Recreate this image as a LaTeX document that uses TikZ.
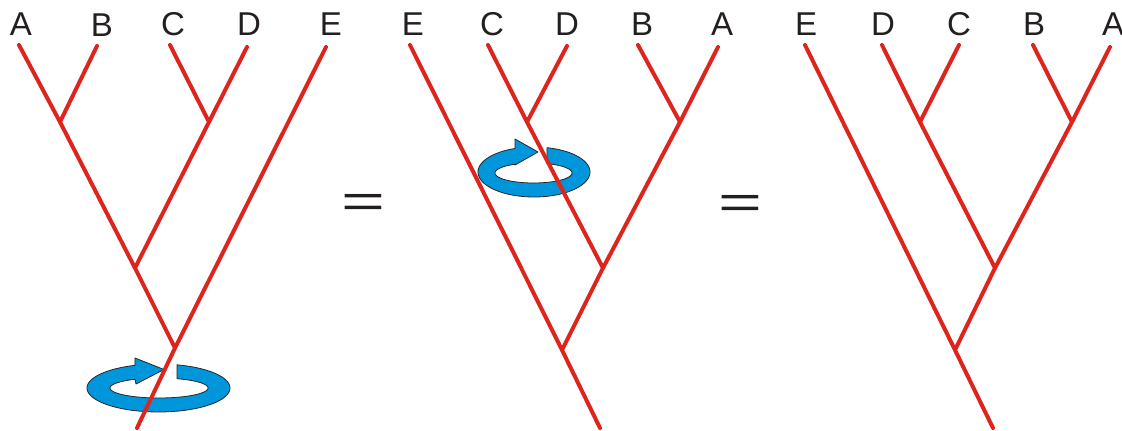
\documentclass[tikz,border=0pt]{standalone}
\usepackage{fontspec}
\setmainfont{Liberation Sans}
\definecolor{treered}{RGB}{221,37,29}
\definecolor{ringblue}{RGB}{0,150,219}
\definecolor{labelink}{RGB}{35,31,32}
\tikzset{
  branch/.style={draw=treered, line width=4pt, line cap=round, line join=round},
  ring/.style={fill=ringblue, draw=black!85, line width=0.8pt, line join=round},
  leaf/.style={anchor=base, inner sep=0pt, text=labelink, font=\fontsize{33}{38}\selectfont},
  eqsign/.style={inner sep=0pt, text=labelink, font=\fontsize{47}{52}\selectfont}
}
\begin{document}
\begin{tikzpicture}[x=1pt, y=-1pt]
\useasboundingbox (0,0) rectangle (1122,431);

% ---------- rotation arrows ----------
\path[ring]
  plot[domain=-75:250.8, samples=90] ({158.5+71.5*cos(\x)},{388+24*sin(\x)})
  -- (135,358) -- (164,369.5) -- (136,384) -- (135,379.3)
  -- plot[domain=0:1, samples=90] ({159+49*cos(240.6-309.1*\x)},{388+10*sin(240.6-309.1*\x)})
  -- cycle;
\path[ring]
  plot[domain=-76.6:250.2, samples=90] ({534+56*cos(\x)},{172+25*sin(\x)})
  -- (515,139) -- (538,152) -- (515,165) -- (515,164.2)
  -- plot[domain=0:1, samples=90] ({533.5+38.5*cos(241.3-310.8*\x)},{173+10*sin(241.3-310.8*\x)})
  -- cycle;

% ---------- tree 1 ----------
\coordinate (t1A) at (19,45);
\coordinate (t1B) at (97,46);
\coordinate (t1C) at (170,45);
\coordinate (t1D) at (247,47);
\coordinate (t1E) at (326,47);
\coordinate (t1AB) at (60,122);
\coordinate (t1CD) at (209,122);
\coordinate (t1ABCD) at (135,268);
\coordinate (t1R) at (175,348);
\coordinate (t1S) at (137,428);
\draw[branch] (t1A) -- (t1AB) -- (t1ABCD) -- (t1R);
\draw[branch] (t1B) -- (t1AB);
\draw[branch] (t1C) -- (t1CD);
\draw[branch] (t1D) -- (t1CD) -- (t1ABCD);
\draw[branch] (t1E) -- (t1R) -- (t1S);
\node[leaf] (l1A) at (21,35) {A};
\node[leaf] (l1B) at (102,36) {B};
\node[leaf] (l1C) at (173,35) {C};
\node[leaf] (l1D) at (249,35) {D};
\node[leaf] (l1E) at (331,35) {E};

% ---------- tree 2 ----------
\coordinate (t2E) at (410,45);
\coordinate (t2C) at (488,45);
\coordinate (t2D) at (567,46);
\coordinate (t2B) at (638,45);
\coordinate (t2A) at (718,47);
\coordinate (t2CD) at (527,122);
\coordinate (t2BA) at (680,122);
\coordinate (t2CDBA) at (603,268);
\coordinate (t2R) at (562,350);
\coordinate (t2S) at (600,428);
\draw[branch] (t2E) -- (t2R) -- (t2S);
\draw[branch] (t2C) -- (t2CD) -- (t2CDBA);
\draw[branch] (t2D) -- (t2CD);
\draw[branch] (t2B) -- (t2BA);
\draw[branch] (t2A) -- (t2BA) -- (t2CDBA) -- (t2R);
\node[leaf] (l2E) at (413,35) {E};
\node[leaf] (l2C) at (492,35) {C};
\node[leaf] (l2D) at (567,35) {D};
\node[leaf] (l2B) at (642,35) {B};
\node[leaf] (l2A) at (722,35) {A};

% ---------- tree 3 ----------
\coordinate (t3E) at (805,45);
\coordinate (t3D) at (882,45);
\coordinate (t3C) at (959,45);
\coordinate (t3B) at (1033,45);
\coordinate (t3A) at (1110,47);
\coordinate (t3DC) at (920,122);
\coordinate (t3BA) at (1072,122);
\coordinate (t3DCBA) at (995,268);
\coordinate (t3R) at (955,350);
\coordinate (t3S) at (993,428);
\draw[branch] (t3E) -- (t3R) -- (t3S);
\draw[branch] (t3D) -- (t3DC) -- (t3DCBA);
\draw[branch] (t3C) -- (t3DC);
\draw[branch] (t3B) -- (t3BA);
\draw[branch] (t3A) -- (t3BA) -- (t3DCBA) -- (t3R);
\node[leaf] (l3E) at (806,35) {E};
\node[leaf] (l3D) at (883,35) {D};
\node[leaf] (l3C) at (959,35) {C};
\node[leaf] (l3B) at (1034,35) {B};
\node[leaf] (l3A) at (1113,35) {A};

% ---------- equals signs ----------
\node[eqsign] (eq1) at (363.4,206.2) {\scalebox{1.6}[1]{=}};
\node[eqsign] (eq2) at (740.5,206.7) {\scalebox{1.6}[1]{=}};
\end{tikzpicture}
\end{document}
